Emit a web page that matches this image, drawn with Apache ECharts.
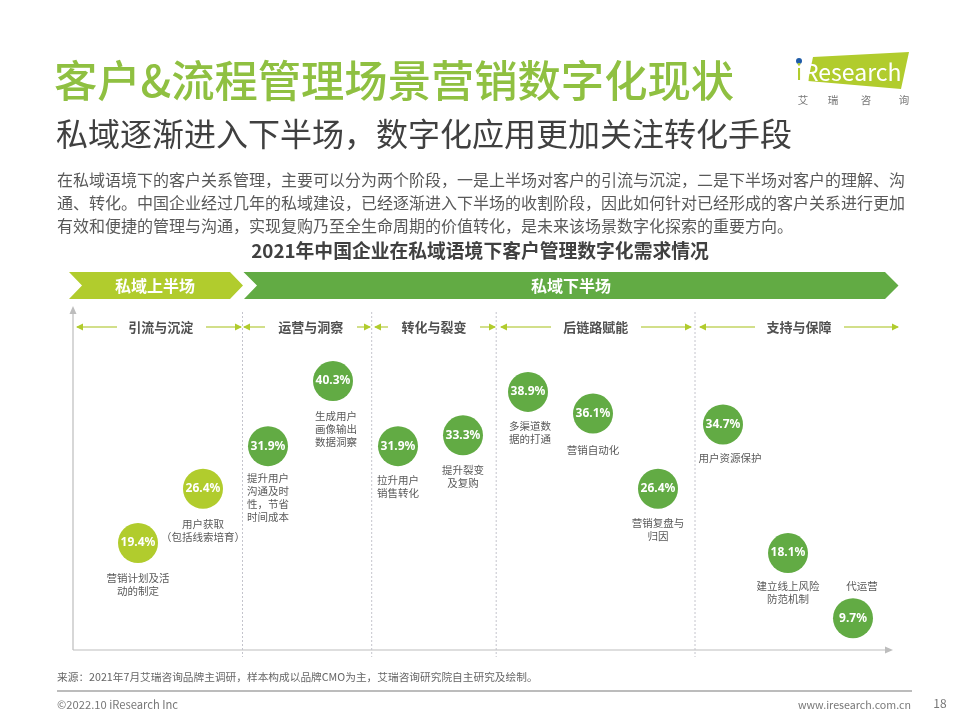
<!DOCTYPE html>
<html><head><meta charset="utf-8">
<style>html,body{margin:0;padding:0;background:#fff}#c{width:960px;height:720px}</style>
<script src="https://cdn.jsdelivr.net/npm/echarts@6/dist/echarts.min.js"></script>
</head><body><div id="c"></div>
<script>
const categories = ['营销计划及活\n动的制定','用户获取\n（包括线索培育）','提升用户\n沟通及时\n性，节省\n时间成本','生成用户\n画像输出\n数据洞察','拉升用户\n销售转化','提升裂变\n及复购','多渠道数\n据的打通','营销自动化','营销复盘与\n归因','用户资源保护','建立线上风险\n防范机制','代运营'];
const values = [19.4,26.4,31.9,40.3,31.9,33.3,38.9,36.1,26.4,34.7,18.1,9.7];
const upperHalfCount = 2;
const stages = ['私域上半场','私域下半场'];
const sections = ['引流与沉淀','运营与洞察','转化与裂变','后链路赋能','支持与保障'];
const titleText = '客户&流程管理场景营销数字化现状';
const subtitleText = '私域逐渐进入下半场，数字化应用更加关注转化手段';
const bodyLines = ['在私域语境下的客户关系管理，主要可以分为两个阶段，一是上半场对客户的引流与沉淀，二是下半场对客户的理解、沟','通、转化。中国企业经过几年的私域建设，已经逐渐进入下半场的收割阶段，因此如何针对已经形成的客户关系进行更加','有效和便捷的管理与沟通，实现复购乃至全生命周期的价值转化，是未来该场景数字化探索的重要方向。'];
const chartTitle = '2021年中国企业在私域语境下客户管理数字化需求情况';
const sourceText = '来源：2021年7月艾瑞咨询品牌主调研，样本构成以品牌CMO为主，艾瑞咨询研究院自主研究及绘制。';

const LIME='#b1cc2d', GREEN='#62ab44', CJK='"Noto Sans CJK SC","Noto Sans",sans-serif';
const g=[];
function txt(x,y,text,font,fill,align,extra){g.push({type:'text',silent:true,x,y,style:Object.assign({text,font:font+' '+CJK,fill,textAlign:align||'left',textVerticalAlign:'middle'},extra||{})});}
function poly(points,fill){g.push({type:'polygon',silent:true,shape:{points},style:{fill}});}
function line(x1,y1,x2,y2,stroke,w,dash){g.push({type:'line',silent:true,shape:{x1,y1,x2,y2},style:{stroke,lineWidth:w,lineDash:dash||null}});}
function arrow(x1,x2,y,dir){line(x1,y,x2,y,'#c3d563',1.5);
 if(dir<0)poly([[x1-1,y],[x1+6,y-3.5],[x1+6,y+3.5]],'#b1cc2d');else poly([[x2+1,y],[x2-6,y-3.5],[x2-6,y+3.5]],'#b1cc2d');}

// header
txt(54,81,titleText,'500 43.3px','#8fc041');
txt(56,134,subtitleText,'32px','#404040');
bodyLines.forEach((l,i)=>txt(57,179.5+i*23,l,'16px','#595959'));
txt(480,251,chartTitle,'bold 18.8px','#404040','center');

// logo
poly([[813,57],[909,52],[901,89],[808,81]],LIME);
g.push({type:'circle',silent:true,shape:{cx:799,cy:61,r:3},style:{fill:'#1f5ca8'}});
txt(796,72,'i','22px',LIME);
txt(804,72,'Research','23px','#fff');
['艾','瑞','咨','询'].forEach((c,i)=>txt([803,833,866,904][i],100,c,'10.5px','#777','center'));

// stage banners
poly([[69,272],[230,272],[243,285.5],[230,299],[69,299],[82,285.5]],LIME);
poly([[243.5,272],[885,272],[898.5,285.5],[885,299],[244,299],[257,285.5]],GREEN);
const shadow={shadowColor:'rgba(60,80,20,.55)',shadowBlur:2,shadowOffsetX:1,shadowOffsetY:1};
txt(155,286,stages[0],'bold 16px','#fff','center',shadow);
txt(571,286,stages[1],'bold 16px','#fff','center',shadow);

// axes + dividers
line(73,313,73,650,'#bdbdbd',1.2);
poly([[73,306],[69.5,314],[76.5,314]],'#bdbdbd');
line(73,650,886,650,'#bdbdbd',1.2);
poly([[893,650],[885,646.5],[885,653.5]],'#bdbdbd');
[242.5,371.7,496.2,695].forEach(x=>line(x,312,x,657,'#c4c4cc',1,[2,2]));

// section heads
const heads=[[160.7,77,117,206,241],[310.7,244,265,357,370],[434,375,388,480,495],[595.7,501,551,641,691],[799,700,755,844,898]];
heads.forEach((h,i)=>{txt(h[0],327,sections[i],'bold 13px','#505050','center');arrow(h[1],h[2],327,-1);arrow(h[3],h[4],327,1);});

// footer
txt(57,677,sourceText,'10.7px','#666');
line(57,691,912,691,'#bcbcbc',2);
txt(57,705,'©2022.10 iResearch Inc','11.2px','#777');
txt(911,705,'www.iresearch.com.cn','10.7px','#777','right');
txt(940,703,'18','12px','#777','center');

const labelGap=[9,9,5,8,7,8,8,10,8,7,6,0];
const labelShift=[0,0,0,3,0,0,2,0,0,7,0,0];
const chart=echarts.init(document.getElementById('c'));
chart.setOption({
 animation:false,
 grid:{left:105.5,width:780,top:305.85,height:387.5},
 xAxis:{type:'category',data:categories,show:false},
 yAxis:{type:'value',min:0,max:50,show:false},
 graphic:g,
 series:[
  {type:'scatter',symbolSize:40,silent:true,z:3,
   data:values.map((v,i)=>({value:v,itemStyle:{color:i<upperHalfCount?LIME:GREEN,opacity:1}})),
   label:{show:true,position:'inside',formatter:p=>p.value+'%',color:'#fff',fontFamily:'"Noto Sans",sans-serif',fontWeight:'bold',fontSize:12}},
  {type:'scatter',symbolSize:40,silent:true,z:2,itemStyle:{color:'rgba(0,0,0,0)',opacity:1},
   data:values.map((v,i)=>({value:v,name:categories[i],
     label:i===categories.length-1?{position:'top',distance:6,offset:[9,0]}:{distance:labelGap[i],offset:[labelShift[i],0]}})),
   label:{show:true,position:'bottom',formatter:p=>p.name,color:'#595959',fontFamily:CJK,fontSize:10.5,lineHeight:13,align:'center'}}
 ]
});
</script></body></html>
